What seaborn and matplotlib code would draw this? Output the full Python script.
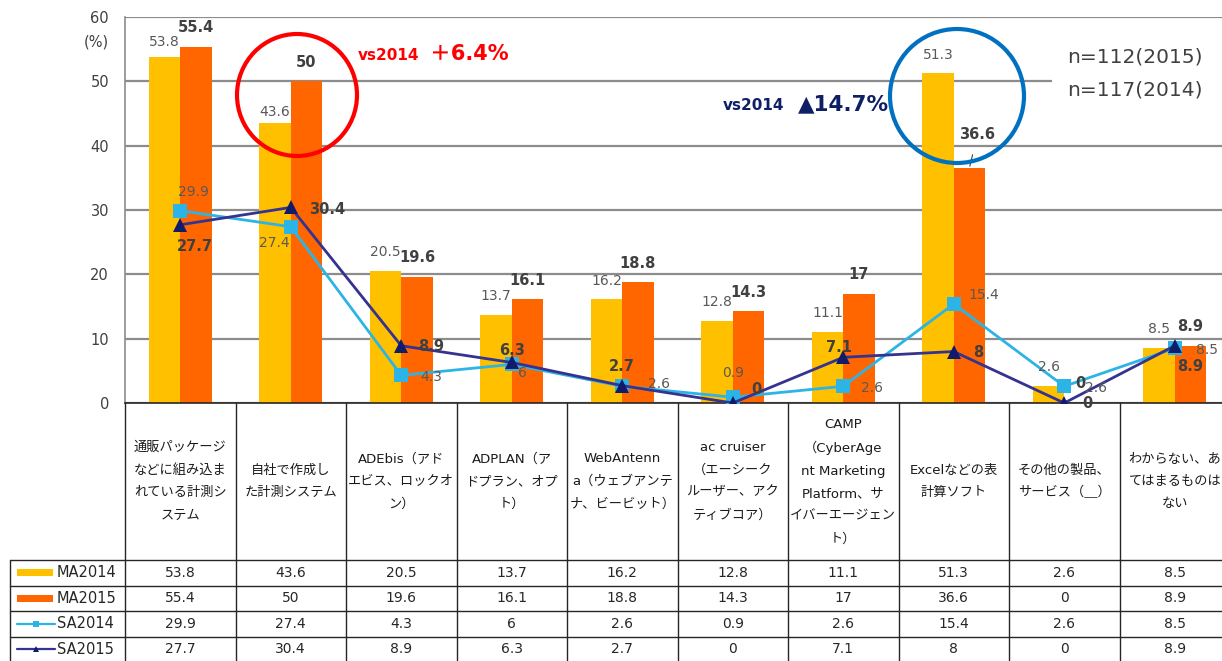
import numpy as np
import pandas as pd
import matplotlib
matplotlib.use("Agg")
import matplotlib.pyplot as plt
from matplotlib.patches import Ellipse, Rectangle
import seaborn as sns

# data
categories = [
    "通販パッケージ\nなどに組み込ま\nれている計測シ\nステム",
    "自社で作成し\nた計測システム",
    "ADEbis（アド\nエビス、ロックオ\nン）",
    "ADPLAN（ア\nドプラン、オプ\nト）",
    "WebAntenn\na（ウェブアンテ\nナ、ビービット）",
    "ac cruiser\n（エーシーク\nルーザー、アク\nティブコア）",
    "CAMP\n（CyberAge\nnt Marketing\nPlatform、サ\nイバーエージェン\nト）",
    "Excelなどの表\n計算ソフト",
    "その他の製品、\nサービス（＿）",
    "わからない、あ\nてはまるものは\nない",
]
ma2014 = [53.8, 43.6, 20.5, 13.7, 16.2, 12.8, 11.1, 51.3, 2.6, 8.5]
ma2015 = [55.4, 50, 19.6, 16.1, 18.8, 14.3, 17, 36.6, 0, 8.9]
sa2014 = [29.9, 27.4, 4.3, 6, 2.6, 0.9, 2.6, 15.4, 2.6, 8.5]
sa2015 = [27.7, 30.4, 8.9, 6.3, 2.7, 0, 7.1, 8, 0, 8.9]
series_names = ["MA2014", "MA2015", "SA2014", "SA2015"]
y_ticks = [0, 10, 20, 30, 40, 50, 60]

colors = {"MA2014": "#FFC000", "MA2015": "#FF6600",
          "SA2014": "#2DB4E6", "SA2015": "#35338F"}
sa15_marker = "#101C6A"

sns.set_style("white")
plt.rcParams['font.family'] = ['DejaVu Sans', 'Noto Sans CJK JP']

df_ma = pd.DataFrame({
    "category": categories * 2,
    "series": ["MA2014"] * len(categories) + ["MA2015"] * len(categories),
    "value": ma2014 + ma2015,
})
df_sa = pd.DataFrame({
    "pos": list(range(len(categories))) * 2,
    "series": ["SA2014"] * len(categories) + ["SA2015"] * len(categories),
    "value": sa2014 + sa2015,
})

W, H = 1222, 661
fig = plt.figure(figsize=(W / 100, H / 100), dpi=100)
col_w = 110.5
ax_left, ax_bottom, ax_top = 125, 403, 17
ax = fig.add_axes([ax_left / W, 1 - ax_bottom / H, (W - ax_left) / W, (ax_bottom - ax_top) / H])

sns.barplot(data=df_ma, x="category", y="value", hue="series", order=categories,
            hue_order=["MA2014", "MA2015"], palette=colors, saturation=1,
            width=0.57, gap=0, errorbar=None, legend=False, ax=ax,
            linewidth=0, edgecolor="none")
sns.lineplot(data=df_sa, x="pos", y="value", hue="series", style="series",
             markers={"SA2014": "s", "SA2015": "^"}, dashes=False,
             palette=colors, linewidth=2, markersize=9.5, markeredgewidth=0,
             legend=False, ax=ax, zorder=3)
ax.lines[-1].set_markerfacecolor(sa15_marker)

ax.set_xlim(-0.5, -0.5 + (W - ax_left) / col_w)
ax.set_ylim(0, 60)
ax.set_yticks(y_ticks)
ax.set_xticks([])
ax.set_xlabel("")
ax.set_ylabel("")
ax.set_axisbelow(True)
ax.yaxis.grid(True, color="#8C8C8C", lw=1.6)
ax.tick_params(axis="y", length=0, pad=11.5, labelsize=10.5, labelcolor="#404040")
for s in ["top", "right"]:
    ax.spines[s].set_visible(False)
ax.spines["left"].set_color("#8C8C8C")
ax.spines["left"].set_linewidth(1.2)
ax.spines["bottom"].set_color("#262626")
ax.spines["bottom"].set_linewidth(1.2)

# data labels (offsets in pixels)
ma14_up = [15, 11, 19, 19, 18, 19, 19, 18, 19, 19]
ma15_up = [19, 19, 19, 19, 19, 19, 19, 33, 19, 19]
sa14_off = [(13, 19), (-16, -16), (30, -2), (11, -9), (37, 2), (0, 24), (29, -2), (30, 9), (32, -2), (32, -2)]
sa15_off = [(15, -22), (36, -2), (30, -1), (0, 12), (0, 19), (24, 13), (-4, 10), (24, -1), (23, -1), (15, -21)]
hw = 0.57 / 4
for i in range(len(categories)):
    ax.annotate(f"{ma2014[i]:g}", (i - hw, ma2014[i]), xytext=(0, ma14_up[i]),
                textcoords="offset pixels", ha="center", va="center",
                fontsize=10, color="#595959")
    if i == 7:
        ax.annotate(f"{ma2015[i]:g}", (i + hw, ma2015[i]), xytext=(8, ma15_up[i]),
                    textcoords="offset pixels", ha="center", va="center",
                    fontsize=10.5, fontweight="bold", color="#404040",
                    arrowprops=dict(arrowstyle="-", color="#404040", lw=0.8, shrinkA=7, shrinkB=1))
    else:
        ax.annotate(f"{ma2015[i]:g}", (i + hw, ma2015[i]), xytext=(0, ma15_up[i]),
                    textcoords="offset pixels", ha="center", va="center",
                    fontsize=10.5, fontweight="bold", color="#404040")
    ax.annotate(f"{sa2014[i]:g}", (i, sa2014[i]), xytext=sa14_off[i],
                textcoords="offset pixels", ha="center", va="center",
                fontsize=10, color="#595959", zorder=4)
    ax.annotate(f"{sa2015[i]:g}", (i, sa2015[i]), xytext=sa15_off[i],
                textcoords="offset pixels", ha="center", va="center",
                fontsize=10.5, fontweight="bold", color="#404040", zorder=4)

# overlay in pixel coordinates: table and call-outs
ov = fig.add_axes([0, 0, 1, 1], zorder=5)
ov.set_xlim(0, W)
ov.set_ylim(H, 0)
ov.axis("off")
ov.patch.set_alpha(0)

ov.text(109, 42, "(%)", ha="right", va="center", fontsize=10.5, color="#404040")

line_c = "#262626"
row_top = 560
row_h = 25.5
n = len(categories)
for k in range(n + 1):
    xb = ax_left + k * col_w
    ov.plot([xb, xb], [ax_bottom, H], color=line_c, lw=1)
ov.plot([10, 10], [row_top, H], color=line_c, lw=1)
for r in range(4):
    yl = row_top + r * row_h
    ov.plot([10, W], [yl, yl], color=line_c, lw=1)

for i, lab in enumerate(categories):
    xc = ax_left + (i + 0.5) * col_w
    ov.text(xc, (ax_bottom + row_top) / 2, lab, ha="center", va="center",
            fontsize=9.5, linespacing=1.95, color="#1A1A1A")

table_vals = [ma2014, ma2015, sa2014, sa2015]
for r, (name, vals) in enumerate(zip(series_names, table_vals)):
    yc = row_top + (r + 0.5) * row_h
    if name.startswith("MA"):
        ov.add_patch(Rectangle((17, yc - 3.5), 36, 7, color=colors[name], lw=0))
    else:
        mk = "s" if name == "SA2014" else "^"
        mc = colors[name] if name == "SA2014" else sa15_marker
        ov.plot([17, 55], [yc, yc], color=colors[name], lw=1.6)
        ov.plot([36], [yc], marker=mk, ms=5, color=mc, mew=0)
    ov.text(57, yc, name, ha="left", va="center", fontsize=10.5, color=line_c)
    for i, v in enumerate(vals):
        xc = ax_left + (i + 0.5) * col_w
        ov.text(xc, yc, f"{v:g}", ha="center", va="center", fontsize=10, color=line_c)

# call-outs
ov.add_patch(Ellipse((297, 95), 120, 122, fill=False, ec="#FF0000", lw=3))
ov.add_patch(Ellipse((957, 96), 134, 134, fill=False, ec="#0070C0", lw=3))
ov.text(358, 56, "vs2014", ha="left", va="center", fontsize=11, fontweight="bold", color="#FF0000")
ov.text(430, 54, "＋6.4%", ha="left", va="center", fontsize=15, fontweight="bold", color="#FF0000")
ov.text(723, 106, "vs2014", ha="left", va="center", fontsize=11, fontweight="bold", color="#0F1F66")
ov.text(798, 104, "▲14.7%", ha="left", va="center", fontsize=15.5, fontweight="bold", color="#0F1F66")
ov.add_patch(Rectangle((1052, 36), W - 1052, 72, color="white", lw=0))
ov.text(1067, 57, "n=112(2015)", ha="left", va="center", fontsize=14.5, color="#404040")
ov.text(1067, 90, "n=117(2014)", ha="left", va="center", fontsize=14.5, color="#404040")

fig.savefig("out.png", dpi=100)
